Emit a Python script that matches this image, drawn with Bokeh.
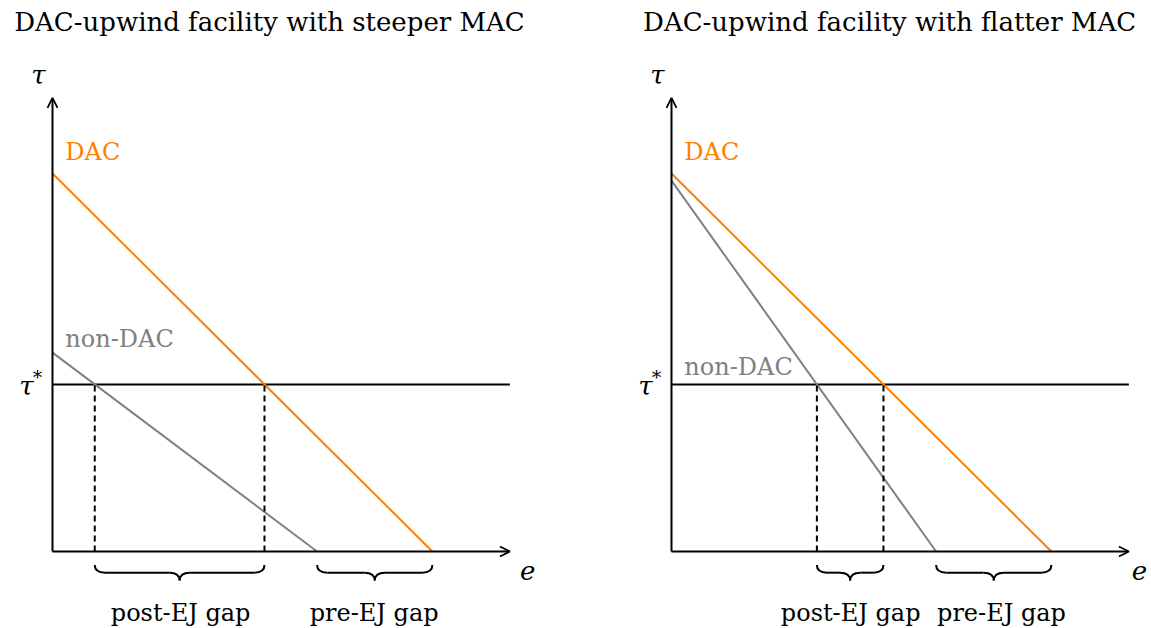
from bokeh.plotting import figure
from bokeh.layouts import row
from bokeh.models import Arrow, OpenHead, Range1d
from bokeh.embed import file_html
from bokeh.resources import INLINE
from bokeh.core.properties import value

# ---------------- data ----------------
titles = ["DAC-upwind facility with steeper MAC", "DAC-upwind facility with flatter MAC"]
tau_star = 4.42
axis_x_len = 12.1
axis_y_len = 12.0
# DAC MAC line: intercept on tau axis, intercept on e axis
dac_tau0 = [10.0, 10.0]
dac_e0 = [10.05, 10.05]
# non-DAC MAC line
non_tau0 = [5.26, 9.81]
non_e0 = [7.0, 7.0]
gap_labels = ["post-EJ gap", "pre-EJ gap"]
series_labels = ["DAC", "non-DAC"]

ORANGE = "#FF8000"
GRAY = "#808080"
FONT = "DejaVu Serif"
S = 37.8  # px per unit
H = 628
OY = 77   # px from bottom to the e axis


def brace(p, xa, xb):
    yt, ym, yb = -0.36, -0.56, -0.77
    r = 0.27
    xm = (xa + xb) / 2
    p.quadratic(x0=[xa, xm - r, xm + r, xb], y0=[yt, ym, ym, yt],
                x1=[xa + r, xm, xm, xb - r], y1=[ym, yb, yb, ym],
                cx=[xa, xm, xm, xb], cy=[ym, ym, ym, ym],
                line_color="black", line_width=2)
    p.segment(x0=[xa + r, xm + r], y0=[ym, ym], x1=[xm - r, xb - r], y1=[ym, ym],
              line_color="black", line_width=2)


def panel(i, width, origin_px, title_x, non_label_y, gap_label_x, e_x):
    p = figure(width=width, height=H, output_backend="svg", toolbar_location=None,
               x_range=Range1d(-origin_px / S, (width - origin_px) / S),
               y_range=Range1d(-OY / S, (H - OY) / S),
               min_border=0, outline_line_color=None)
    p.axis.visible = False
    p.grid.visible = False
    p.background_fill_color = "white"
    p.border_fill_color = "white"

    # axes with arrows
    p.add_layout(Arrow(end=OpenHead(size=10, line_width=1.8), x_start=0, y_start=0,
                       x_end=axis_x_len, y_end=0, line_width=2))
    p.add_layout(Arrow(end=OpenHead(size=10, line_width=1.8), x_start=0, y_start=0,
                       x_end=0, y_end=axis_y_len, line_width=2))
    # tau* line
    p.line([0, axis_x_len], [tau_star, tau_star], line_color="black", line_width=2)

    # MAC lines
    p.line([0, dac_e0[i]], [dac_tau0[i], 0], line_color=ORANGE, line_width=2)
    p.line([0, non_e0[i]], [non_tau0[i], 0], line_color=GRAY, line_width=2)

    # intersections with tau*
    x_non = non_e0[i] * (1 - tau_star / non_tau0[i])
    x_dac = dac_e0[i] * (1 - tau_star / dac_tau0[i])
    p.segment(x0=[x_non, x_dac], y0=[0, 0], x1=[x_non, x_dac], y1=[tau_star, tau_star],
              line_color="black", line_width=2, line_dash="6 4")

    # braces
    brace(p, x_non, x_dac)
    brace(p, non_e0[i], dac_e0[i])

    # texts
    p.text(x=[title_x], y=[14.0], text=[titles[i]], text_font=value(FONT),
           text_font_size="26px", text_align="center", text_baseline="middle", text_color="black")
    p.text(x=[-0.37], y=[12.6], text=["τ"], text_font=value(FONT), text_font_style="italic",
           text_font_size="26px", text_align="center", text_baseline="middle", text_color="black")
    p.text(x=[-0.5], y=[tau_star - 0.05], text=["τ"], text_font=value(FONT), text_font_style="italic",
           text_font_size="26px", text_align="right", text_baseline="middle", text_color="black")
    p.text(x=[-0.52], y=[tau_star + 0.2], text=["*"], text_font=value(FONT),
           text_font_size="19px", text_align="left", text_baseline="middle", text_color="black")
    p.text(x=[e_x], y=[-0.5], text=["e"], text_font=value(FONT), text_font_style="italic",
           text_font_size="26px", text_align="center", text_baseline="middle", text_color="black")
    p.text(x=[0.34], y=[dac_tau0[i] + 0.56], text=[series_labels[0]], text_font=value(FONT),
           text_font_size="24px", text_align="left", text_baseline="middle", text_color=ORANGE)
    p.text(x=[0.34], y=[non_label_y], text=[series_labels[1]], text_font=value(FONT),
           text_font_size="24px", text_align="left", text_baseline="middle", text_color=GRAY)
    p.text(x=gap_label_x, y=[-1.64, -1.64], text=gap_labels, text_font=value(FONT),
           text_font_size="24px", text_align="center", text_baseline="middle", text_color="black")
    return p


p1 = panel(0, 598, 52, 5.74, 5.61, [3.39, 8.51], 12.57)
p2 = panel(1, 553, 73, 5.77, 4.89, [4.74, 8.73], 12.38)
layout = row(p1, p2)

open("out.html", "w").write(file_html(layout, INLINE))
